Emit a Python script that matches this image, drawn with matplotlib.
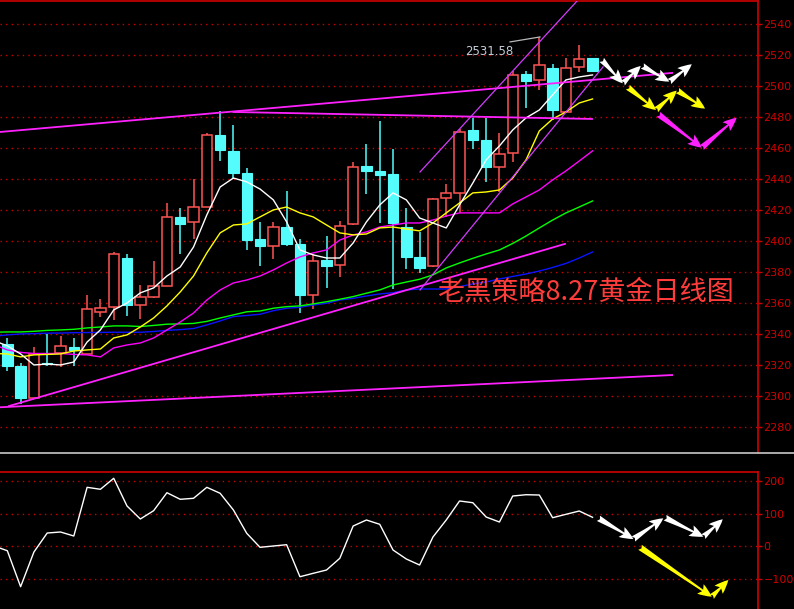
import numpy as np
import matplotlib

matplotlib.use("Agg")
import matplotlib.pyplot as plt
from matplotlib.patches import Rectangle
from matplotlib.lines import Line2D

# daily gold candles, oldest first
opens = [2333.5, 2319.4, 2298.9, 2321.0, 2327.5, 2331.6, 2327.1, 2354.4, 2357.2, 2389.0,
         2358.9, 2364.1, 2371.2, 2415.5, 2412.5, 2422.1, 2468.4, 2458.1, 2443.9, 2401.3,
         2397.0, 2409.0, 2398.1, 2365.4, 2387.7, 2384.3, 2410.8, 2448.4, 2445.2, 2443.2,
         2409.0, 2389.7, 2383.7, 2427.5, 2430.8, 2471.6, 2465.2, 2447.5, 2457.0, 2507.7,
         2504.1, 2511.4, 2483.0, 2512.1, 2518.1]
highs = [2337.4, 2321.0, 2331.6, 2340.0, 2338.7, 2337.4, 2365.2, 2362.6, 2392.9, 2391.6,
         2371.6, 2387.1, 2424.5, 2421.3, 2440.0, 2469.7, 2483.9, 2474.8, 2447.1, 2412.5,
         2412.3, 2432.3, 2401.1, 2391.4, 2403.2, 2412.9, 2451.0, 2462.6, 2477.4, 2459.4,
         2421.3, 2406.0, 2428.0, 2436.8, 2472.3, 2479.5, 2479.5, 2469.5, 2509.7, 2509.7,
         2531.58, 2514.2, 2517.9, 2526.5, 2518.1]
lows = [2316.3, 2294.8, 2298.0, 2319.5, 2318.9, 2319.5, 2327.0, 2351.2, 2349.0, 2351.6,
        2349.7, 2363.4, 2371.0, 2391.6, 2401.3, 2422.0, 2451.6, 2440.2, 2394.4, 2384.1,
        2388.6, 2397.0, 2353.7, 2356.3, 2369.9, 2377.0, 2410.0, 2430.5, 2411.4, 2369.0,
        2381.9, 2379.4, 2383.0, 2415.7, 2418.0, 2459.2, 2438.3, 2431.8, 2451.2, 2486.0,
        2497.4, 2478.1, 2482.6, 2508.8, 2508.8]
closes = [2319.5, 2298.9, 2326.9, 2320.5, 2332.1, 2329.7, 2356.0, 2356.6, 2391.6, 2358.9,
          2363.7, 2371.0, 2415.5, 2411.2, 2421.7, 2468.4, 2458.7, 2444.1, 2400.8, 2397.0,
          2408.8, 2398.1, 2365.4, 2386.9, 2384.1, 2409.5, 2447.5, 2445.4, 2442.8, 2411.4,
          2389.9, 2382.6, 2427.1, 2430.8, 2470.1, 2465.2, 2447.9, 2455.9, 2506.9, 2503.4,
          2513.4, 2484.5, 2511.8, 2517.2, 2509.9]

# moving averages, first value belongs to the bar just off the left edge
ma_white = [2335.7, 2332.3, 2327.1, 2320.0, 2320.6, 2320.0, 2321.9, 2334.8, 2342.6, 2355.5,
            2360.0, 2366.5, 2369.7, 2377.4, 2383.2, 2396.1, 2416.8, 2434.8, 2440.6, 2438.1,
            2433.5, 2426.5, 2412.3, 2394.2, 2391.0, 2389.0, 2389.0, 2398.7, 2412.3, 2423.2,
            2431.0, 2426.5, 2414.8, 2411.6, 2408.4, 2423.2, 2437.4, 2452.3, 2461.3, 2471.6,
            2479.4, 2484.5, 2494.2, 2503.9, 2505.8, 2507.1]
ma_yellow = [2327.4, 2327.1, 2325.2, 2326.5, 2326.8, 2327.1, 2329.0, 2329.7, 2330.3, 2337.4,
             2339.4, 2344.5, 2350.3, 2358.1, 2367.1, 2377.4, 2392.3, 2405.2, 2410.3, 2411.0,
             2415.5, 2420.0, 2421.9, 2418.1, 2415.5, 2410.3, 2405.2, 2403.9, 2404.5, 2408.4,
             2409.0, 2407.7, 2406.5, 2411.6, 2418.1, 2424.5, 2431.0, 2431.6, 2432.9, 2440.6,
             2452.3, 2471.0, 2478.7, 2483.2, 2489.0, 2491.6]
ma_magenta = [2333.1, 2329.7, 2328.1, 2327.4, 2327.4, 2327.4, 2326.8, 2326.5, 2325.2, 2331.0,
              2332.9, 2334.2, 2337.4, 2342.6, 2347.7, 2353.5, 2361.9, 2368.4, 2372.9, 2374.8,
              2377.4, 2381.3, 2385.8, 2389.7, 2392.3, 2394.2, 2400.6, 2403.9, 2405.8, 2409.0,
              2410.3, 2411.6, 2411.6, 2413.5, 2416.1, 2418.1, 2418.1, 2418.1, 2418.1, 2423.9,
              2428.4, 2432.9, 2439.4, 2445.2, 2451.6, 2458.1]
ma_green = [2341.1, 2341.3, 2341.3, 2341.7, 2342.3, 2342.6, 2343.0, 2343.9, 2344.5, 2345.2,
            2345.2, 2344.8, 2345.5, 2346.3, 2346.5, 2346.8, 2348.1, 2350.3, 2352.3, 2354.3,
            2354.8, 2356.6, 2357.6, 2358.1, 2359.4, 2360.8, 2362.4, 2364.1, 2366.3, 2368.4,
            2371.6, 2373.5, 2375.3, 2378.1, 2382.6, 2385.8, 2388.8, 2391.6, 2394.2, 2398.4,
            2403.2, 2408.4, 2413.5, 2418.1, 2421.9, 2425.8]
ma_blue = [2338.5, 2339.4, 2340.0, 2340.2, 2340.5, 2340.6, 2340.8, 2340.9, 2341.0, 2341.1,
           2341.1, 2341.1, 2341.6, 2342.3, 2342.8, 2343.5, 2345.8, 2348.4, 2351.2, 2351.9,
           2352.7, 2355.0, 2356.6, 2357.2, 2358.7, 2359.8, 2361.9, 2363.0, 2364.5, 2365.8,
           2366.6, 2368.4, 2369.0, 2369.0, 2369.0, 2370.5, 2372.3, 2373.5, 2375.5, 2377.1,
           2378.7, 2380.6, 2382.9, 2385.5, 2389.0, 2392.9]

# oscillator in the lower pane, same bars as the moving averages
osc = [0.0, -14.5, -125.2, -18.5, 40.0, 43.1, 30.8, 180.6, 174.5, 208.3,
       123.1, 83.1, 108.6, 164.0, 143.7, 146.8, 180.6, 162.2, 110.8, 39.1,
       -4.0, 0.0, 4.0, -94.5, -84.0, -73.8, -37.8, 61.5, 80.0, 66.8,
       -12.3, -40.0, -58.5, 27.7, 80.0, 138.5, 133.2, 89.2, 73.8, 153.8,
       157.8, 156.9, 87.1, 97.5, 107.7, 88.3]

price_ticks = list(range(2280, 2541, 20))
osc_ticks = [-100, 0, 100, 200]

# hand-drawn trend lines: (bar0, price0, bar1, price1)
trend_main = [(-0.55, 2470.3, 49.98, 2508.4),
              (17.0, 2483.2, 43.96, 2478.7),
              (0.13, 2293.5, 41.93, 2398.1),
              (-0.55, 2292.7, 49.98, 2313.5)]
trend_channel = [(31.03, 2444.5, 42.91, 2555.5),
                 (31.03, 2368.4, 44.79, 2512.3)]
high_marker = (37.8, 2528.4, 40.05, 2531.6)

# forecast arrows: (bar0, value0, bar1, value1)
arrows_white = [(44.69, 2516.8, 46.27, 2501.7), (46.27, 2501.7, 47.62, 2512.9),
                (47.74, 2512.9, 49.77, 2502.8), (49.77, 2502.8, 51.46, 2514.0)]
arrows_yellow = [(46.65, 2499.2, 48.77, 2484.5), (48.77, 2484.5, 50.33, 2497.0),
                 (50.38, 2497.0, 52.46, 2485.4)]
arrows_magenta = [(48.95, 2481.7, 52.21, 2460.2), (52.21, 2460.2, 54.84, 2479.5)]
osc_arrows_white = [(44.44, 85.2, 47.07, 21.5), (47.07, 21.5, 49.32, 85.2),
                    (49.45, 87.1, 52.33, 28.6), (52.33, 28.6, 53.79, 82.2)]
osc_arrows_yellow = [(47.57, -4.0, 52.96, -156.0), (52.96, -156.0, 54.21, -104.6)]

BG = "black"
GRID = "#c80000"
AXIS = "#d00000"
UP = "#ff5454"
DOWN = "#54fcfc"

W, H = 794, 609
fig = plt.figure(figsize=(W / 100, H / 100), dpi=100, facecolor=BG)
ax = fig.add_axes([0, 1 - 453 / H, 758 / W, 452 / H], facecolor=BG)
ax2 = fig.add_axes([0, 0, 758 / W, 137 / H], facecolor=BG)

xmin, xmax = -0.55, 56.44
for axis in (ax, ax2):
    axis.set_xlim(xmin, xmax)
    axis.set_xticks([])
    axis.yaxis.tick_right()
    axis.tick_params(axis="y", colors=AXIS, length=3, width=1, pad=1, labelsize=8)
    for side in ("left", "bottom"):
        axis.spines[side].set_visible(False)
    for side in ("top", "right"):
        axis.spines[side].set_color(AXIS)
        axis.spines[side].set_linewidth(1.2)

ax.set_ylim(2263.2, 2554.8)
ax.set_yticks(price_ticks)
for p in price_ticks:
    ax.axhline(p, color=GRID, lw=1, ls=(0, (1, 3)), zorder=1)

# candles
bar_x = np.arange(len(opens))
w = 0.78
for i, o, h, l, c in zip(bar_x, opens, highs, lows, closes):
    if c >= o:
        ax.add_patch(Rectangle((i - w / 2, o), w, c - o, facecolor=BG, edgecolor=UP, lw=1.1, zorder=3))
        ax.vlines(i, c, h, color=UP, lw=1.1, zorder=2)
        ax.vlines(i, l, o, color=UP, lw=1.1, zorder=2)
    else:
        ax.vlines(i, l, h, color=DOWN, lw=1.1, zorder=2)
        ax.add_patch(Rectangle((i - w / 2, c), w, o - c, facecolor=DOWN, edgecolor=DOWN, lw=0.8, zorder=3))

ma_x = np.arange(-1, len(ma_white) - 1)
for series, color in ((ma_blue, "#0a14ff"), (ma_green, "#00ff00"), (ma_magenta, "#ff00ff"),
                      (ma_yellow, "#ffff00"), (ma_white, "#ffffff")):
    ax.plot(ma_x, series, color=color, lw=1.0, zorder=4)

for x0, y0, x1, y1 in trend_main:
    ax.plot([x0, x1], [y0, y1], color="#ff22ff", lw=1.3, zorder=4)
for x0, y0, x1, y1 in trend_channel:
    ax.plot([x0, x1], [y0, y1], color="#d23cff", lw=0.9, zorder=4)
ax.plot(high_marker[0::2], high_marker[1::2], color="#b8b8b8", lw=0.9, zorder=4)
ax.text(34.4, 2520.0, "2531.58", color="#c4ccd6", fontsize=8.5, va="baseline", ha="left", zorder=5)


def draw_arrows(axis, segments, color, scale):
    for x0, y0, x1, y1 in segments:
        axis.annotate("", xy=(x1, y1), xytext=(x0, y0), zorder=6,
                      arrowprops=dict(arrowstyle="fancy,head_length=0.9,head_width=0.75,tail_width=0.4",
                                      color=color, lw=0, shrinkA=0, shrinkB=0, mutation_scale=scale))


draw_arrows(ax, arrows_white, "white", 11)
draw_arrows(ax, arrows_yellow, "#ffff00", 11)
draw_arrows(ax, arrows_magenta, "#ff22ff", 11)

ax.text(0.773, 0.355, "老黑策略8.27黄金日线图", transform=ax.transAxes, color="#ff3c3c",
        fontsize=19.5, ha="center", va="center", family=["Noto Sans CJK SC", "DejaVu Sans"], zorder=6)

# lower pane
ax2.set_ylim(-193.8, 227.7)
ax2.set_yticks(osc_ticks)
for v in osc_ticks:
    ax2.axhline(v, color=GRID, lw=1, ls=(0, (1, 3)), zorder=1)
ax2.plot(ma_x, osc, color="white", lw=1.0, zorder=4)
draw_arrows(ax2, osc_arrows_white, "white", 11)
draw_arrows(ax2, osc_arrows_yellow, "#ffff00", 11)

# separator between panes
fig.add_artist(Line2D([0, 1], [1 - 453.3 / H] * 2, color="#c8c8c8", lw=1.2, transform=fig.transFigure))

fig.savefig("out.png", dpi=100, facecolor=BG)
